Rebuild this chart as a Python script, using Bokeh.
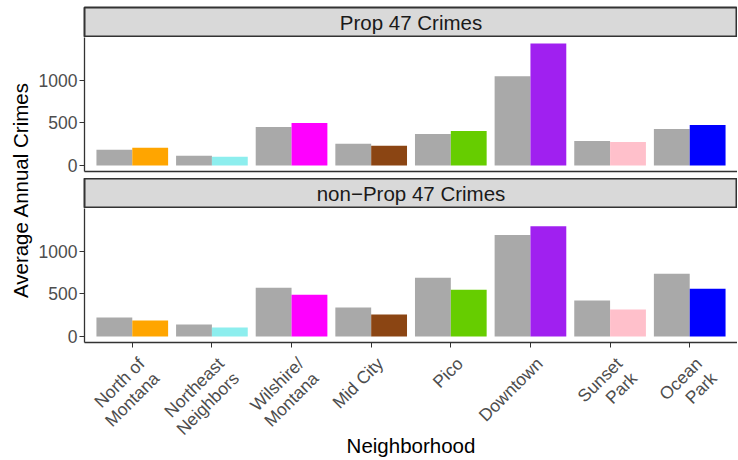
from bokeh.plotting import figure
from bokeh.layouts import row, column
from bokeh.models import Range1d, FixedTicker, ColumnDataSource, CustomLabelingPolicy
from bokeh.transform import dodge
from bokeh.core.properties import value
from bokeh.embed import file_html
from bokeh.resources import INLINE
import math

# ---------------- data ----------------
neighborhoods = ["North of\nMontana", "Northeast\nNeighbors", "Wilshire/\nMontana", "Mid City",
                 "Pico", "Downtown", "Sunset\nPark", "Ocean\nPark"]
colors = ["#FFA500", "#8DEEEE", "#FF00FF", "#8B4513", "#66CD00", "#A020F0", "#FFC0CB", "#0000FF"]
panel_titles = ["Prop 47 Crimes", "non\u2212Prop 47 Crimes"]
x_title = "Neighborhood"
y_title = "Average Annual Crimes"
prop47_before = [184, 114, 453, 254, 371, 1050, 289, 430]
prop47_after = [207, 102, 500, 231, 406, 1436, 277, 477]
nonprop47_before = [222, 140, 574, 340, 691, 1194, 422, 738]
nonprop47_after = [187, 105, 492, 258, 550, 1300, 316, 562]
y_ticks = [0, 500, 1000]
gray = "#A9A9A9"

FONT = value("Liberation Sans")
FRAME_W = 653
LEFT = 50
STRIP_H = 30
PANEL_H = 134
TOP_PAD = 7
GAP = 7
P2_BOTTOM = 8
LAB_H = 108
LABEL_W = 34

positions = list(range(1, len(neighborhoods) + 1))
ymax = max(prop47_after + prop47_before + nonprop47_before + nonprop47_after)
y_lo, y_hi = -0.05 * ymax, 1.05 * ymax
x_range = Range1d(0.4, len(positions) + 0.6)


def strip(title, top_pad):
    p = figure(frame_width=FRAME_W, frame_height=STRIP_H, x_range=Range1d(0, 1), y_range=Range1d(0, 1),
               output_backend="svg", toolbar_location=None, x_axis_location=None, y_axis_location=None,
               min_border_left=LEFT, min_border_right=0, min_border_top=top_pad, min_border_bottom=0)
    p.background_fill_color = "#D9D9D9"
    p.border_fill_color = "white"
    p.outline_line_color = "#333333"
    p.outline_line_width = 2
    p.grid.visible = False
    p.text(x=[0.5], y=[0.5], text=[title], text_align="center", text_baseline="middle",
           text_font=FONT, text_font_size="20.5px", text_color="#1A1A1A")
    return p


def panel(before, after, bottom_border, ticks):
    p = figure(frame_width=FRAME_W, frame_height=PANEL_H, x_range=x_range,
               y_range=Range1d(y_lo, y_hi), output_backend="svg", toolbar_location=None,
               min_border_left=LEFT, min_border_right=0, min_border_top=0,
               min_border_bottom=bottom_border)
    p.outline_line_color = None
    p.grid.visible = False
    src = ColumnDataSource(dict(x=positions, before=before, after=after, c=colors))
    p.vbar(x=dodge("x", -0.225), top="before", bottom=0, width=0.45, source=src,
           fill_color=gray, line_color=None)
    p.vbar(x=dodge("x", 0.225), top="after", bottom=0, width=0.45, source=src,
           fill_color="c", line_color=None)
    ya = p.yaxis[0]
    ya.ticker = FixedTicker(ticks=y_ticks)
    ya.minor_tick_line_color = None
    ya.major_tick_in = 0
    ya.major_tick_out = 5
    ya.major_tick_line_color = "#333333"
    ya.axis_line_color = "#333333"
    ya.axis_line_width = 1.3
    ya.major_label_standoff = 2
    ya.major_label_text_font = "Liberation Sans"
    ya.major_label_text_font_size = "17.5px"
    ya.major_label_text_color = "#4D4D4D"
    xa = p.xaxis[0]
    xa.axis_line_color = "#333333"
    xa.axis_line_width = 1.3
    xa.minor_tick_line_color = None
    xa.major_tick_in = 0
    xa.major_label_standoff = 0
    if ticks:
        # tick marks only; the rotated tick labels are drawn in the figure below
        xa.ticker = FixedTicker(ticks=positions)
        xa.major_tick_out = 5
        xa.major_tick_line_color = "#333333"
        xa.major_label_text_font_size = "1px"
        xa.major_label_policy = CustomLabelingPolicy(code="return [];")
    else:
        xa.ticker = FixedTicker(ticks=[])
        xa.major_tick_out = 0
    return p


s1 = strip(panel_titles[0], TOP_PAD)
p1 = panel(prop47_before, prop47_after, GAP, False)
s2 = strip(panel_titles[1], 0)
p2 = panel(nonprop47_before, nonprop47_after, P2_BOTTOM, True)

# rotated tick labels and x title (area below the bottom panel)
xl = figure(frame_width=FRAME_W, frame_height=LAB_H, x_range=x_range, y_range=Range1d(0, LAB_H),
            output_backend="svg", toolbar_location=None, x_axis_location=None, y_axis_location=None,
            min_border_left=LEFT, min_border_right=0, min_border_top=0, min_border_bottom=0)
xl.outline_line_color = None
xl.grid.visible = False
tsrc = ColumnDataSource(dict(x=positions, name=neighborhoods, ly=[LAB_H - 2] * len(positions)))
xl.text(x="x", y="ly", text="name", source=tsrc, angle=math.pi / 4, x_offset=2,
        text_align="right", text_baseline="top", text_font=FONT, text_font_size="17.5px",
        text_color="#4D4D4D", text_line_height=1.05)
xl.text(x=[(x_range.start + x_range.end) / 2], y=[14], text=[x_title],
        text_align="center", text_baseline="middle", text_font=FONT,
        text_font_size="20.5px", text_color="black")

TOTAL_H = TOP_PAD + STRIP_H * 2 + PANEL_H * 2 + GAP + P2_BOTTOM + LAB_H
lab = figure(frame_width=LABEL_W, frame_height=TOTAL_H, x_range=Range1d(0, LABEL_W),
             y_range=Range1d(0, TOTAL_H), output_backend="svg", toolbar_location=None,
             x_axis_location=None, y_axis_location=None,
             min_border_left=0, min_border_right=0, min_border_top=0, min_border_bottom=0)
lab.outline_line_color = None
lab.grid.visible = False
lab.text(x=[20], y=[TOTAL_H - 189.5], text=[y_title], angle=math.pi / 2,
         text_align="center", text_baseline="middle", text_font=FONT,
         text_font_size="20.5px", text_color="black")

layout = row(lab, column(s1, p1, s2, p2, xl, spacing=0), spacing=0)
open("out.html", "w").write(file_html(layout, INLINE))
